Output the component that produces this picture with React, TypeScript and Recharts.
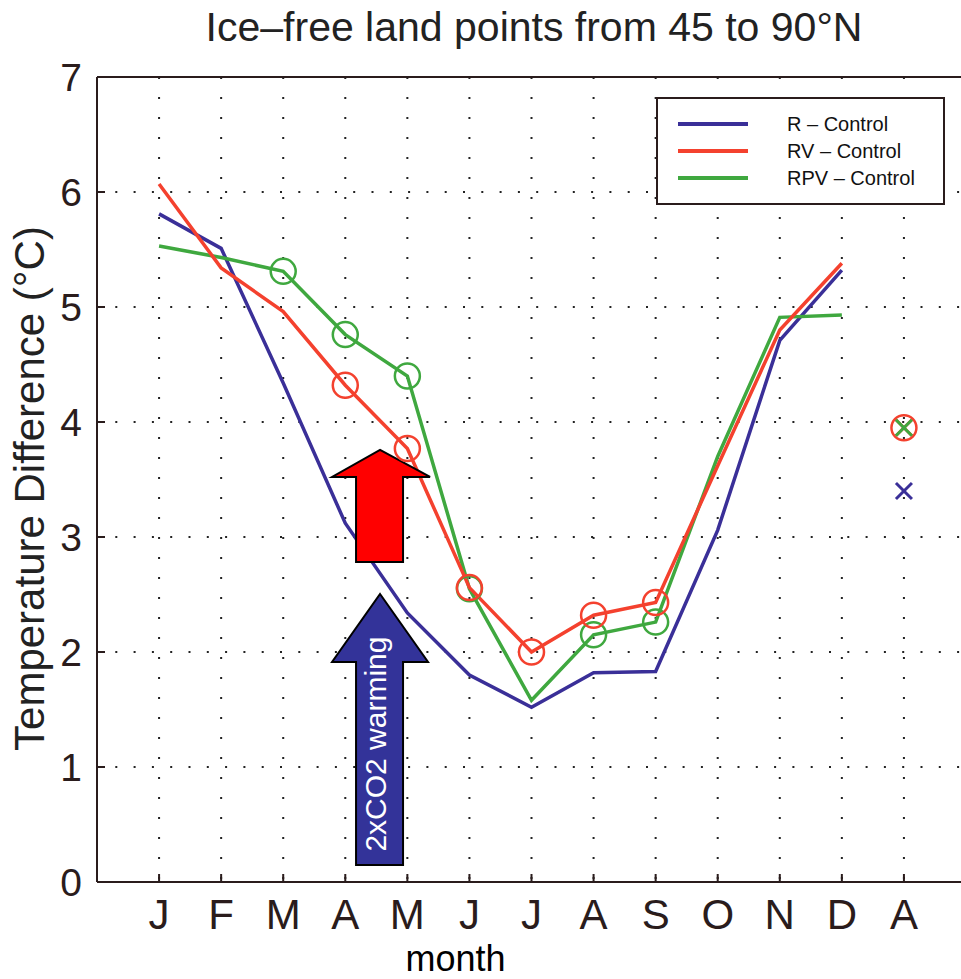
import React from "react";
import {
    LineChart,
    Line,
    XAxis,
    YAxis,
    CartesianGrid,
    Legend,
    ReferenceDot
} from "recharts";

const monthLabels = ["J", "F", "M", "A", "M", "J", "J", "A", "S", "O", "N", "D", "A"];
const rControl = [5.81, 5.51, 4.34, 3.12, 2.34, 1.8, 1.52, 1.82, 1.83, 3.06, 4.71, 5.32];
const rvControl = [6.07, 5.34, 4.96, 4.32, 3.77, 2.56, 2.0, 2.32, 2.43, 3.62, 4.8, 5.38];
const rpvControl = [5.53, 5.43, 5.31, 4.76, 4.4, 2.55, 1.58, 2.15, 2.26, 3.7, 4.91, 4.93];
// annual means: R, RV, RPV
const annualMeans = [3.4, 3.95, 3.95];
// months (1-based) that carry a circle marker
const rvCircled = [4, 5, 6, 7, 8, 9];
const rpvCircled = [3, 4, 5, 6, 8, 9];
const xTicks = [1, 2, 3, 4, 5, 6, 7, 8, 9, 10, 11, 12, 13];
const yTicks = [0, 1, 2, 3, 4, 5, 6, 7];

const BLUE = "#3a2f98";
const RED = "#f4412e";
const GREEN = "#3fa83f";
const INK = "#2a1c1c";
const FONT = "'Liberation Sans', Arial, Helvetica, sans-serif";

const data = monthLabels.map((m, i) => ({
    x: i + 1,
    r: i < 12 ? rControl[i] : null,
    rv: i < 12 ? rvControl[i] : null,
    rpv: i < 12 ? rpvControl[i] : null,
    rA: i === 12 ? annualMeans[0] : null,
    rvA: i === 12 ? annualMeans[1] : null,
    rpvA: i === 12 ? annualMeans[2] : null
}));

const legendItems = [
    { name: "R – Control", color: BLUE },
    { name: "RV – Control", color: RED },
    { name: "RPV – Control", color: GREEN }
];

const circleDot = (marked: number[], color: string) => (p: any) => {
    const { cx, cy, payload, index } = p;
    if (cx == null || cy == null || !marked.includes(payload.x)) return <g key={`n${index}`} />;
    return <circle key={`c${index}`} cx={cx} cy={cy} r={12.5} fill="none" stroke={color} strokeWidth={2.5} />;
};

const crossDot = (color: string, withCircle = false) => (p: any) => {
    const { cx, cy, index } = p;
    if (cx == null || cy == null) return <g key={`n${index}`} />;
    const s = 8;
    return (
        <g key={`x${index}`}>
            <line x1={cx - s} y1={cy - s} x2={cx + s} y2={cy + s} stroke={color} strokeWidth={3} />
            <line x1={cx - s} y1={cy + s} x2={cx + s} y2={cy - s} stroke={color} strokeWidth={3} />
            {withCircle && <circle cx={cx} cy={cy} r={12.5} fill="none" stroke={color} strokeWidth={2.5} />}
        </g>
    );
};

const RedArrow = (p: any) => {
    const { cx, cy } = p;
    const pts = [
        [0, 0], [50, 27], [23, 27], [23, 112], [-24, 112], [-24, 27], [-48, 27]
    ].map(([dx, dy]) => `${cx + dx},${cy + dy}`).join(" ");
    return <polygon points={pts} fill="#ff0000" stroke="#000" strokeWidth={2} />;
};

const BlueArrow = (p: any) => {
    const { cx, cy } = p;
    const pts = [
        [0, 0], [48, 68], [23, 68], [23, 271], [-24, 271], [-24, 68], [-48, 68]
    ].map(([dx, dy]) => `${cx + dx},${cy + dy}`).join(" ");
    const tx = cx + 6;
    const ty = cy + 150;
    return (
        <g>
            <polygon points={pts} fill="#333399" stroke="#000" strokeWidth={2} />
            <text
                x={tx}
                y={ty}
                transform={`rotate(-90, ${tx}, ${ty})`}
                textAnchor="middle"
                fill="#fff"
                fontSize={30}
                fontFamily={FONT}
            >
                2xCO2 warming
            </text>
        </g>
    );
};

const renderLegend = () => (
    <svg width={290} height={109} style={{ display: "block" }}>
        <rect x={1} y={1} width={287} height={106} fill="#fff" stroke={INK} strokeWidth={2} />
        {legendItems.map((s, i) => (
            <g key={s.name}>
                <line x1={22} x2={92} y1={27 + i * 27} y2={27 + i * 27} stroke={s.color} strokeWidth={4} />
                <text x={131} y={27 + i * 27} dy="0.35em" fontSize={20} fontFamily={FONT} fill="#111">
                    {s.name}
                </text>
            </g>
        ))}
    </svg>
);

const YLabel = (p: any) => {
    const vb = p.viewBox || { x: 0, y: 77, width: 97, height: 805 };
    const x = vb.x + 44;
    const y = vb.y + vb.height / 2 + 9;
    return (
        <text
            x={x}
            y={y}
            transform={`rotate(-90, ${x}, ${y})`}
            textAnchor="middle"
            fontSize={42}
            fontFamily={FONT}
            fill="#222"
        >
            Temperature Difference (°C)
        </text>
    );
};

const App = () => {
    return (
        <div
            style={{
                position: "fixed",
                left: 0,
                top: 0,
                width: 961,
                height: 979,
                overflow: "hidden",
                background: "#fff"
            }}
        >
            <div
                style={{
                    position: "absolute",
                    left: 534,
                    top: 7,
                    transform: "translateX(-50%)",
                    whiteSpace: "nowrap",
                    fontFamily: FONT,
                    fontSize: 41,
                    lineHeight: "40px",
                    color: "#222"
                }}
            >
                Ice–free land points from 45 to 90°N
            </div>
            <LineChart
                width={990}
                height={979}
                data={data}
                margin={{ top: 76, right: 24, bottom: 0, left: 0 }}
            >
                <CartesianGrid
                    horizontal={true}
                    vertical={false}
                    stroke="#222"
                    strokeWidth={2}
                    strokeDasharray="2 16.3"
                />
                <CartesianGrid
                    horizontal={false}
                    vertical={true}
                    stroke="#222"
                    strokeWidth={2}
                    strokeDasharray="2 18"
                />
                <XAxis
                    dataKey="x"
                    type="number"
                    domain={[0, 14]}
                    ticks={xTicks}
                    interval={0}
                    height={97}
                    tickSize={-8}
                    tickMargin={25}
                    tickFormatter={(v) => monthLabels[v - 1]}
                    stroke={INK}
                    strokeWidth={2}
                    tick={{ fill: INK, fontSize: 42, fontFamily: FONT }}
                    label={{
                        value: "month",
                        position: "insideBottom",
                        offset: 8,
                        dx: -76,
                        fontSize: 36,
                        fontFamily: FONT,
                        fill: "#000"
                    }}
                />
                <XAxis
                    xAxisId="top"
                    orientation="top"
                    dataKey="x"
                    type="number"
                    domain={[0, 14]}
                    ticks={xTicks}
                    height={1}
                    tickSize={-8}
                    tick={false}
                    stroke={INK}
                    strokeWidth={2}
                />
                <YAxis
                    type="number"
                    domain={[0, 7]}
                    ticks={yTicks}
                    interval={0}
                    width={97}
                    tickSize={-8}
                    tickMargin={23}
                    stroke={INK}
                    strokeWidth={2}
                    tick={{ fill: INK, fontSize: 39, fontFamily: FONT }}
                    label={{ content: YLabel }}
                />
                <Legend
                    layout="horizontal"
                    verticalAlign="middle"
                    align="center"
                    content={renderLegend}
                    wrapperStyle={{ left: 656, top: 97, width: 290, height: 109 }}
                />
                <Line
                    dataKey="r"
                    stroke={BLUE}
                    strokeWidth={3.5}
                    dot={false}
                    activeDot={false}
                    isAnimationActive={false}
                />
                <Line
                    dataKey="rpv"
                    stroke={GREEN}
                    strokeWidth={3.5}
                    dot={circleDot(rpvCircled, GREEN)}
                    activeDot={false}
                    isAnimationActive={false}
                />
                <Line
                    dataKey="rv"
                    stroke={RED}
                    strokeWidth={3.5}
                    dot={circleDot(rvCircled, RED)}
                    activeDot={false}
                    isAnimationActive={false}
                />
                <Line
                    dataKey="rA"
                    stroke="none"
                    dot={crossDot(BLUE)}
                    activeDot={false}
                    isAnimationActive={false}
                />
                <Line
                    dataKey="rvA"
                    stroke="none"
                    dot={crossDot(RED, true)}
                    activeDot={false}
                    isAnimationActive={false}
                />
                <Line
                    dataKey="rpvA"
                    stroke="none"
                    dot={crossDot(GREEN)}
                    activeDot={false}
                    isAnimationActive={false}
                />
                <ReferenceDot x={4.56} y={3.757} r={0} shape={RedArrow} ifOverflow="visible" />
                <ReferenceDot x={4.56} y={2.504} r={0} shape={BlueArrow} ifOverflow="visible" />
            </LineChart>
        </div>
    );
};

export default App;
